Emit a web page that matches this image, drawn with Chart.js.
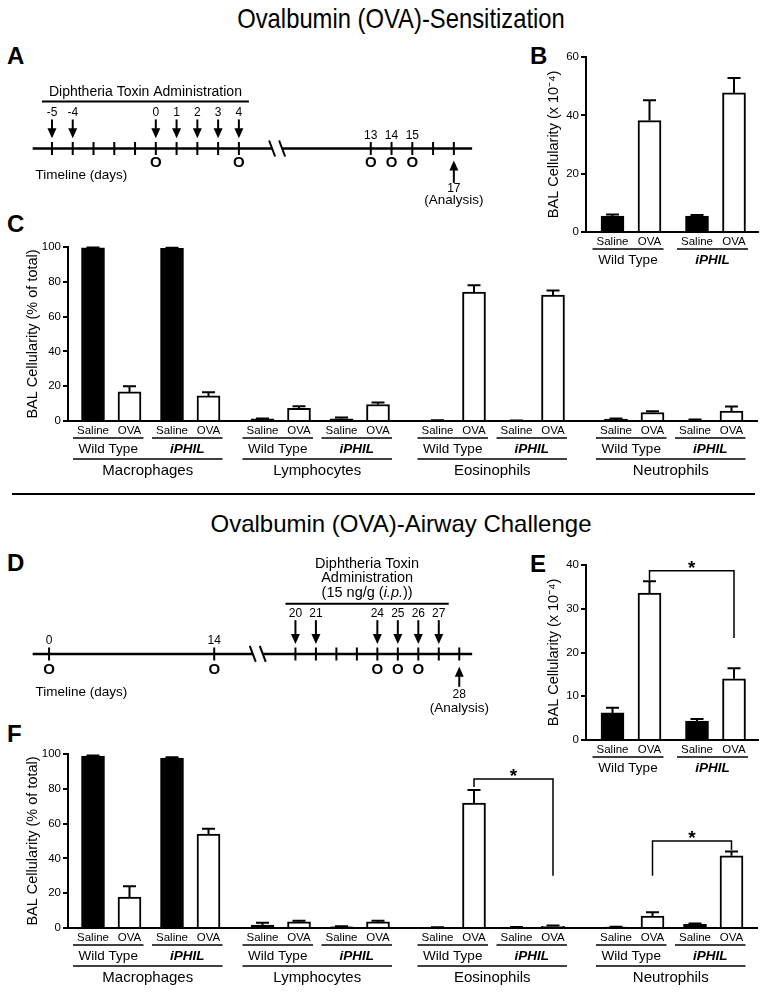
<!DOCTYPE html>
<html>
<head>
<meta charset="utf-8">
<script src="https://cdn.jsdelivr.net/npm/chart.js@4.4.0/dist/chart.umd.min.js"></script>
<style>
  body { margin: 0; background: #fff; }
  #page { position: relative; width: 764px; height: 993px; overflow: hidden;
          font-family: "Liberation Sans", Arial, sans-serif; color: #000; }
  #page canvas { position: absolute; }
  .title { position: absolute; left: 19px; width: 764px; text-align: center; line-height: 1; white-space: nowrap; }
  .letter { position: absolute; font-weight: bold; font-size: 24px; line-height: 1; }
</style>
</head>
<body>
<div id="page">
  <div class="title" style="top:5px;font-size:28px;transform:scaleX(0.85)">Ovalbumin (OVA)-Sensitization</div>
  <div class="title" style="top:512px;font-size:24px">Ovalbumin (OVA)-Airway Challenge</div>
  <div style="position:absolute;left:12px;top:493px;width:743px;height:2px;background:#000"></div>

  <div class="letter" style="left:7px;top:44px">A</div>
  <div class="letter" style="left:530px;top:44px">B</div>
  <div class="letter" style="left:7px;top:212px">C</div>
  <div class="letter" style="left:7px;top:551px">D</div>
  <div class="letter" style="left:530px;top:552px">E</div>
  <div class="letter" style="left:7px;top:722px">F</div>

  <canvas id="timeA" width="500" height="160" style="left:0;top:60px"></canvas>
  <canvas id="chartB" width="264" height="240" style="left:500px;top:40px"></canvas>
  <canvas id="chartC" width="764" height="255" style="left:0;top:230px"></canvas>
  <canvas id="timeD" width="500" height="195" style="left:0;top:535px"></canvas>
  <canvas id="chartE" width="264" height="235" style="left:500px;top:550px"></canvas>
  <canvas id="chartF" width="764" height="258" style="left:0;top:735px"></canvas>
</div>

<script>
// ---- data ----
const treatments = ['Saline', 'OVA'];
const genotypes = ['Wild Type', 'iPHIL'];
const cellTypes = ['Macrophages', 'Lymphocytes', 'Eosinophils', 'Neutrophils'];

// total BAL cells (x10^-4): WT Saline, WT OVA, iPHIL Saline, iPHIL OVA
const sensTotal = [5.5, 38.2, 5.5, 47.7];
const sensTotalSem = [0.5, 7.0, 0.3, 5.1];
const chalTotal = [6.2, 33.6, 4.3, 14.0];
const chalTotalSem = [1.2, 2.7, 0.5, 2.4];

// % of total, same four bars for each cell type in turn
const sensPct = [99.5, 16.7, 99.3, 14.4, 1.2, 7.3, 1.3, 9.5, 0.3, 74.1, 0.2, 72.4, 1.1, 4.9, 0.5, 5.7];
const sensPctSem = [0.2, 3.3, 0.2, 2.1, 0.3, 1.2, 0.7, 1.2, 0.1, 3.9, 0.1, 2.6, 0.3, 0.7, 0.3, 2.7];
const chalPct = [98.8, 17.8, 97.7, 54.0, 1.7, 3.5, 0.7, 3.5, 0.3, 71.8, 0.4, 0.9, 0.6, 6.9, 2.1, 41.5];
const chalPctSem = [0.4, 6.2, 0.5, 3.0, 1.3, 0.6, 0.3, 0.6, 0.1, 7.5, 0.2, 0.5, 0.1, 2.1, 0.5, 2.5];

// significance: [from bar, to bar, bracket top, left leg end, right leg end]
const chalTotalSig = [[1, 3, 38.7, 36.5, 23.3]];
const chalPctSig = [[9, 11, 85.6, 81, 30], [13, 15, 50, 30, 44.8]];

// timelines (days)
const sensTicks = [-5, -4, -3, -2, -1, 0, 1, 2, 3, 4, 13, 14, 15, 16, 17];
const sensToxin = [-5, -4, 0, 1, 2, 3, 4];
const sensOva = [0, 4, 13, 14, 15];
const sensMarked = [13, 14, 15];
const sensAnalysis = 17;

const chalTicks = [0, 14, 20, 21, 22, 23, 24, 25, 26, 27, 28];
const chalToxin = [20, 21, 24, 25, 26, 27];
const chalOva = [0, 14, 24, 25, 26];
const chalMarked = [0, 14];
const chalAnalysis = 28;

const FONT = '"Liberation Sans", Arial, sans-serif';
Chart.defaults.font.family = FONT;
Chart.defaults.color = '#000';

// the break squeezes the empty days together
const sensPos = d => d <= 4 ? d : d - 2.65;
const chalPos = d => d <= 14 ? d * 0.576 : d - 7.97;

function arrow(ctx, x, tail, tip) {
  const dir = Math.sign(tip - tail);
  ctx.beginPath();
  ctx.moveTo(x, tail);
  ctx.lineTo(x, tip - dir * 6);
  ctx.stroke();
  ctx.beginPath();
  ctx.moveTo(x, tip);
  ctx.lineTo(x - 4.5, tip - dir * 10);
  ctx.lineTo(x + 4.5, tip - dir * 10);
  ctx.closePath();
  ctx.fill();
}

function timelinePlugin(cfg) {
  return {
    id: 'timeline',
    afterDatasetsDraw(chart) {
      const {ctx, scales: {x, y}} = chart;
      const X = d => x.getPixelForValue(cfg.pos(d));
      const Y = v => y.getPixelForValue(v);
      const R = cfg.rows;
      ctx.save();
      ctx.strokeStyle = ctx.fillStyle = '#000';
      ctx.textAlign = 'center';
      ctx.textBaseline = 'middle';

      // main line with break
      const ly = Y(R.line), bx = x.getPixelForValue(cfg.breakAt);
      ctx.lineWidth = 2.5;
      ctx.beginPath();
      ctx.moveTo(x.getPixelForValue(cfg.start), ly); ctx.lineTo(bx - 5, ly);
      ctx.moveTo(bx + 5, ly); ctx.lineTo(x.getPixelForValue(cfg.end), ly);
      ctx.stroke();
      ctx.lineWidth = 2;
      ctx.beginPath();
      ctx.moveTo(bx - 8, ly - 8); ctx.lineTo(bx - 2, ly + 8);
      ctx.moveTo(bx + 2, ly - 8); ctx.lineTo(bx + 8, ly + 8);
      ctx.stroke();

      // toxin arrows and their days
      ctx.font = '12px ' + FONT;
      cfg.toxin.forEach(d => {
        arrow(ctx, X(d), Y(R.arrowTail), Y(R.arrowTip));
        ctx.fillText(String(d), X(d), Y(R.dayLabel));
      });
      cfg.marked.forEach(d => ctx.fillText(String(d), X(d), Y(R.markLabel)));

      // toxin header
      const x0 = X(cfg.toxin[0]) - 10, x1 = X(cfg.toxin[cfg.toxin.length - 1]) + 10;
      ctx.beginPath();
      ctx.moveTo(x0, Y(R.dtLine)); ctx.lineTo(x1, Y(R.dtLine));
      ctx.stroke();
      cfg.header.forEach((parts, i) => {
        const size = cfg.headerSize;
        const fonts = parts.map(p => (p.it ? 'italic ' : '') + size + 'px ' + FONT);
        let w = 0;
        parts.forEach((p, k) => { ctx.font = fonts[k]; w += ctx.measureText(p.t).width; });
        let cx = (x0 + x1) / 2 - w / 2;
        ctx.textAlign = 'left';
        parts.forEach((p, k) => {
          ctx.font = fonts[k];
          ctx.fillText(p.t, cx, Y(R.dtText[i]));
          cx += ctx.measureText(p.t).width;
        });
        ctx.textAlign = 'center';
      });

      // OVA doses
      ctx.font = 'bold 15px ' + FONT;
      cfg.ova.forEach(d => ctx.fillText('O', X(d), Y(R.ova)));

      // analysis
      arrow(ctx, X(cfg.analysis), Y(R.anTail), Y(R.anTip));
      ctx.font = '12px ' + FONT;
      ctx.fillText(String(cfg.analysis), X(cfg.analysis), Y(R.anDay));
      ctx.font = '13.5px ' + FONT;
      ctx.fillText('(Analysis)', X(cfg.analysis), Y(R.anText));

      ctx.textAlign = 'left';
      ctx.fillText('Timeline (days)', chart.chartArea.left + 27, Y(R.caption));
      ctx.restore();
    }
  };
}

function timelineChart(id, ticks, cfg) {
  const h = document.getElementById(id).height;
  new Chart(document.getElementById(id), {
    type: 'scatter',
    data: {
      datasets: [{
        data: ticks.map(d => ({x: cfg.pos(d), y: cfg.rows.line})),
        pointStyle: 'line',
        pointRotation: 90,
        pointRadius: 6.5,
        pointBorderWidth: 2,
        pointBorderColor: '#000'
      }]
    },
    options: {
      responsive: false,
      animation: false,
      events: [],
      layout: {padding: 0},
      plugins: {legend: {display: false}, tooltip: {enabled: false}},
      scales: {
        x: {type: 'linear', display: false, min: cfg.min, max: cfg.max},
        y: {type: 'linear', display: false, min: 0, max: h, reverse: true}
      }
    },
    plugins: [timelinePlugin(cfg)]
  });
}

function errorBars(sem) {
  return {
    id: 'errorBars',
    afterDatasetsDraw(chart) {
      const {ctx, scales: {y}} = chart;
      const ds = chart.data.datasets[0];
      ctx.save();
      ctx.strokeStyle = '#000';
      ctx.lineWidth = 2;
      chart.getDatasetMeta(0).data.forEach((bar, i) => {
        const top = y.getPixelForValue(ds.data[i].y + sem[i]);
        ctx.beginPath();
        ctx.moveTo(bar.x, bar.y);
        ctx.lineTo(bar.x, top);
        ctx.moveTo(bar.x - 6.5, top);
        ctx.lineTo(bar.x + 6.5, top);
        ctx.stroke();
      });
      ctx.restore();
    }
  };
}

function groupLabels(withCells) {
  const rows = [10, 17, 28, 38, 50];
  return {
    id: 'groupLabels',
    afterDraw(chart) {
      const ctx = chart.ctx;
      const bars = chart.getDatasetMeta(0).data;
      const base = chart.chartArea.bottom;
      const hline = (a, b, yy) => { ctx.beginPath(); ctx.moveTo(a, yy); ctx.lineTo(b, yy); ctx.stroke(); };
      ctx.save();
      ctx.fillStyle = ctx.strokeStyle = '#000';
      ctx.lineWidth = 1.5;
      ctx.textAlign = 'center';
      ctx.textBaseline = 'middle';
      ctx.font = '11.5px ' + FONT;
      bars.forEach((b, i) => ctx.fillText(treatments[i % 2], b.x, base + rows[0]));
      const spans = [];
      for (let p = 0; p < bars.length / 2; p++) {
        const a = bars[2 * p].x - 20, b = bars[2 * p + 1].x + 14;
        spans.push([a, b]);
        hline(a, b, base + rows[1]);
        ctx.font = (p % 2 ? 'bold italic ' : '') + '13.5px ' + FONT;
        ctx.fillText(genotypes[p % 2], (a + b) / 2, base + rows[2]);
      }
      if (withCells) {
        ctx.font = '15px ' + FONT;
        for (let g = 0; g < spans.length / 2; g++) {
          const a = spans[2 * g][0], b = spans[2 * g + 1][1];
          hline(a, b, base + rows[3]);
          ctx.fillText(cellTypes[g], (a + b) / 2, base + rows[4]);
        }
      }
      ctx.restore();
    }
  };
}

function sigBrackets(list) {
  return {
    id: 'sigBrackets',
    afterDatasetsDraw(chart) {
      const {ctx, scales: {y}} = chart;
      const bars = chart.getDatasetMeta(0).data;
      ctx.save();
      ctx.strokeStyle = ctx.fillStyle = '#000';
      ctx.lineWidth = 1.5;
      list.forEach(([a, b, top, endA, endB]) => {
        const xa = bars[a].x, xb = bars[b].x, yt = y.getPixelForValue(top);
        ctx.beginPath();
        ctx.moveTo(xa, y.getPixelForValue(endA));
        ctx.lineTo(xa, yt);
        ctx.lineTo(xb, yt);
        ctx.lineTo(xb, y.getPixelForValue(endB));
        ctx.stroke();
        ctx.font = 'bold 19px ' + FONT;
        ctx.textAlign = 'center';
        ctx.textBaseline = 'alphabetic';
        ctx.fillText('*', (xa + xb) / 2, yt + 3);
      });
      ctx.restore();
    }
  };
}

function barChart(id, values, sem, sig, L) {
  const pos = i => L.starts[Math.floor(i / 4)] + (Math.floor(i / 2) % 2) * L.pair + (i % 2) * L.step;
  new Chart(document.getElementById(id), {
    type: 'bar',
    data: {
      datasets: [{
        data: values.map((v, i) => ({x: pos(i), y: v})),
        backgroundColor: values.map((v, i) => i % 2 ? '#fff' : '#000'),
        borderColor: '#000',
        borderWidth: 2,
        barThickness: 23
      }]
    },
    options: {
      responsive: false,
      animation: false,
      events: [],
      layout: {padding: L.pad},
      plugins: {legend: {display: false}, tooltip: {enabled: false}},
      scales: {
        x: {
          type: 'linear', min: 0, max: L.len, offset: false,
          grid: {display: false},
          ticks: {display: false},
          border: {display: true, width: 2, color: '#000'},
          afterFit: s => { s.height = L.xh; }
        },
        y: {
          min: 0, max: L.max,
          ticks: {stepSize: L.stepSize, color: '#000', font: {size: 11.5}, padding: 2},
          grid: {drawOnChartArea: false, tickLength: 5, lineWidth: 2, color: '#000'},
          border: {display: true, width: 2, color: '#000'},
          title: {display: true, text: L.title, color: '#000', font: {size: 14.5}, padding: 0},
          afterFit: s => { s.width = L.yw; }
        }
      }
    },
    plugins: [errorBars(sem), sigBrackets(sig), groupLabels(L.cells)]
  });
}

document.addEventListener('DOMContentLoaded', function() {
  // A
  timelineChart('timeA', sensTicks, {
    pos: sensPos, min: -7.093, max: 16.163, start: -5.93, end: 15.23, breakAt: 5.84,
    toxin: sensToxin, ova: sensOva, marked: sensMarked, analysis: sensAnalysis,
    header: [[{t: 'Diphtheria Toxin Administration'}]], headerSize: 14,
    rows: {dtText: [27], dtLine: 37, dayLabel: 49, arrowTail: 57, arrowTip: 78, markLabel: 75,
           line: 89.5, ova: 106, caption: 120, anTip: 103, anTail: 128, anDay: 135, anText: 148}
  });

  // D
  timelineChart('timeD', chalTicks, {
    pos: chalPos, min: -1.981, max: 21.604, start: -0.802, end: 20.66, breakAt: 10.19,
    toxin: chalToxin, ova: chalOva, marked: chalMarked, analysis: chalAnalysis,
    header: [[{t: 'Diphtheria Toxin'}], [{t: 'Administration'}],
             [{t: '(15 ng/g ('}, {t: 'i.p.', it: true}, {t: '))'}]],
    headerSize: 14.5,
    rows: {dtText: [22, 38, 54], dtLine: 66, dayLabel: 77, arrowTail: 84, arrowTip: 110, markLabel: 107,
           line: 121, ova: 138, caption: 163, anTip: 135, anTail: 157, anDay: 166, anText: 181}
  });

  const small = {starts: [26.5], pair: 84.5, step: 37, len: 172, yw: 41, cells: false,
                 title: 'BAL Cellularity (x 10\u207B\u2074)'};
  const wide = {starts: [25, 194.5, 369.5, 548], pair: 79, step: 36.5, len: 689, yw: 44, cells: true,
                max: 100, stepSize: 20, title: 'BAL Cellularity (% of total)'};

  barChart('chartB', sensTotal, sensTotalSem, [],
    Object.assign({}, small, {max: 60, stepSize: 20, xh: 48, pad: {left: 45, top: 17, right: 6, bottom: 0}}));
  barChart('chartE', chalTotal, chalTotalSem, chalTotalSig,
    Object.assign({}, small, {max: 40, stepSize: 10, xh: 45, pad: {left: 45, top: 15, right: 6, bottom: 0}}));
  barChart('chartC', sensPct, sensPctSem, [],
    Object.assign({}, wide, {xh: 64, pad: {left: 24, top: 17, right: 7, bottom: 0}}));
  barChart('chartF', chalPct, chalPctSem, chalPctSig,
    Object.assign({}, wide, {xh: 65, pad: {left: 24, top: 19, right: 7, bottom: 0}}));
});
</script>
</body>
</html>
